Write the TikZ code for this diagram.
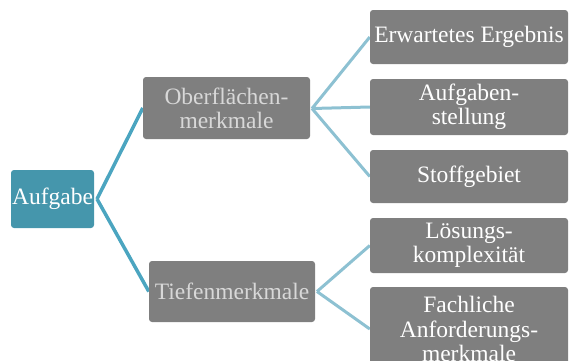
\documentclass[tikz,border=0pt]{standalone}
\usepackage{fontspec}
\setmainfont{Liberation Serif}
\definecolor{boxteal}{HTML}{4596AC}
\definecolor{boxgray}{HTML}{7F7F7F}
\definecolor{lineteal}{HTML}{4BA5C0}
\definecolor{lineblue}{HTML}{8DC1D2}
\definecolor{txtgray}{HTML}{D8D8D8}
\pgfdeclarelayer{bg}
\pgfsetlayers{bg,main}
\begin{document}
\begin{tikzpicture}[x=1pt,y=-1pt,
  base/.style={rectangle,rounded corners=3pt,inner sep=0pt,align=center,
    font=\fontsize{23.5}{24.3}\selectfont},
  rootbox/.style={base,fill=boxteal,text=white},
  midbox/.style={base,fill=boxgray,text=txtgray},
  leafbox/.style={base,fill=boxgray,text=white,minimum width=198pt},
  lvlone/.style={draw=lineteal,line width=3.5pt},
  lvltwo/.style={draw=lineblue,line width=3pt}]
\useasboundingbox (0,0) rectangle (569,360);
\clip (0,0) rectangle (569,360);
\coordinate (va) at (97,199);
\coordinate (vo) at (312,108.5);
\coordinate (vt) at (317,291.5);
\node[rootbox,minimum width=83pt,minimum height=58pt] (a) at (52.5,199) {Aufgabe};
\node[midbox,minimum width=167pt,minimum height=62pt] (o) at (226.5,108) {Oberflächen-\\merkmale};
\node[midbox,minimum width=166pt,minimum height=61pt] (t) at (232,291.5) {Tiefenmerkmale};
\node[leafbox,minimum height=54pt] (e) at (469,37) {Erwartetes Ergebnis};
\node[leafbox,minimum height=56pt] (s1) at (469,107) {Aufgaben-\\stellung};
\node[leafbox,minimum height=53pt] (s2) at (469,176.5) {Stoffgebiet};
\node[leafbox,minimum height=55pt] (l) at (469,245.5) {Lösungs-\\komplexität};
\node[leafbox,minimum height=84pt] (f) at (469,329) {Fachliche\\Anforderungs-\\merkmale};
\begin{pgfonlayer}{bg}
\path[lvlone] (va) -- (o.west) (va) -- (t.west);
\path[lvltwo] (vo) -- (e.west) (vo) -- (s1.west) (vo) -- (s2.west);
\path[lvltwo] (vt) -- (l.west) (vt) -- (f.west);
\end{pgfonlayer}
\end{tikzpicture}
\end{document}
